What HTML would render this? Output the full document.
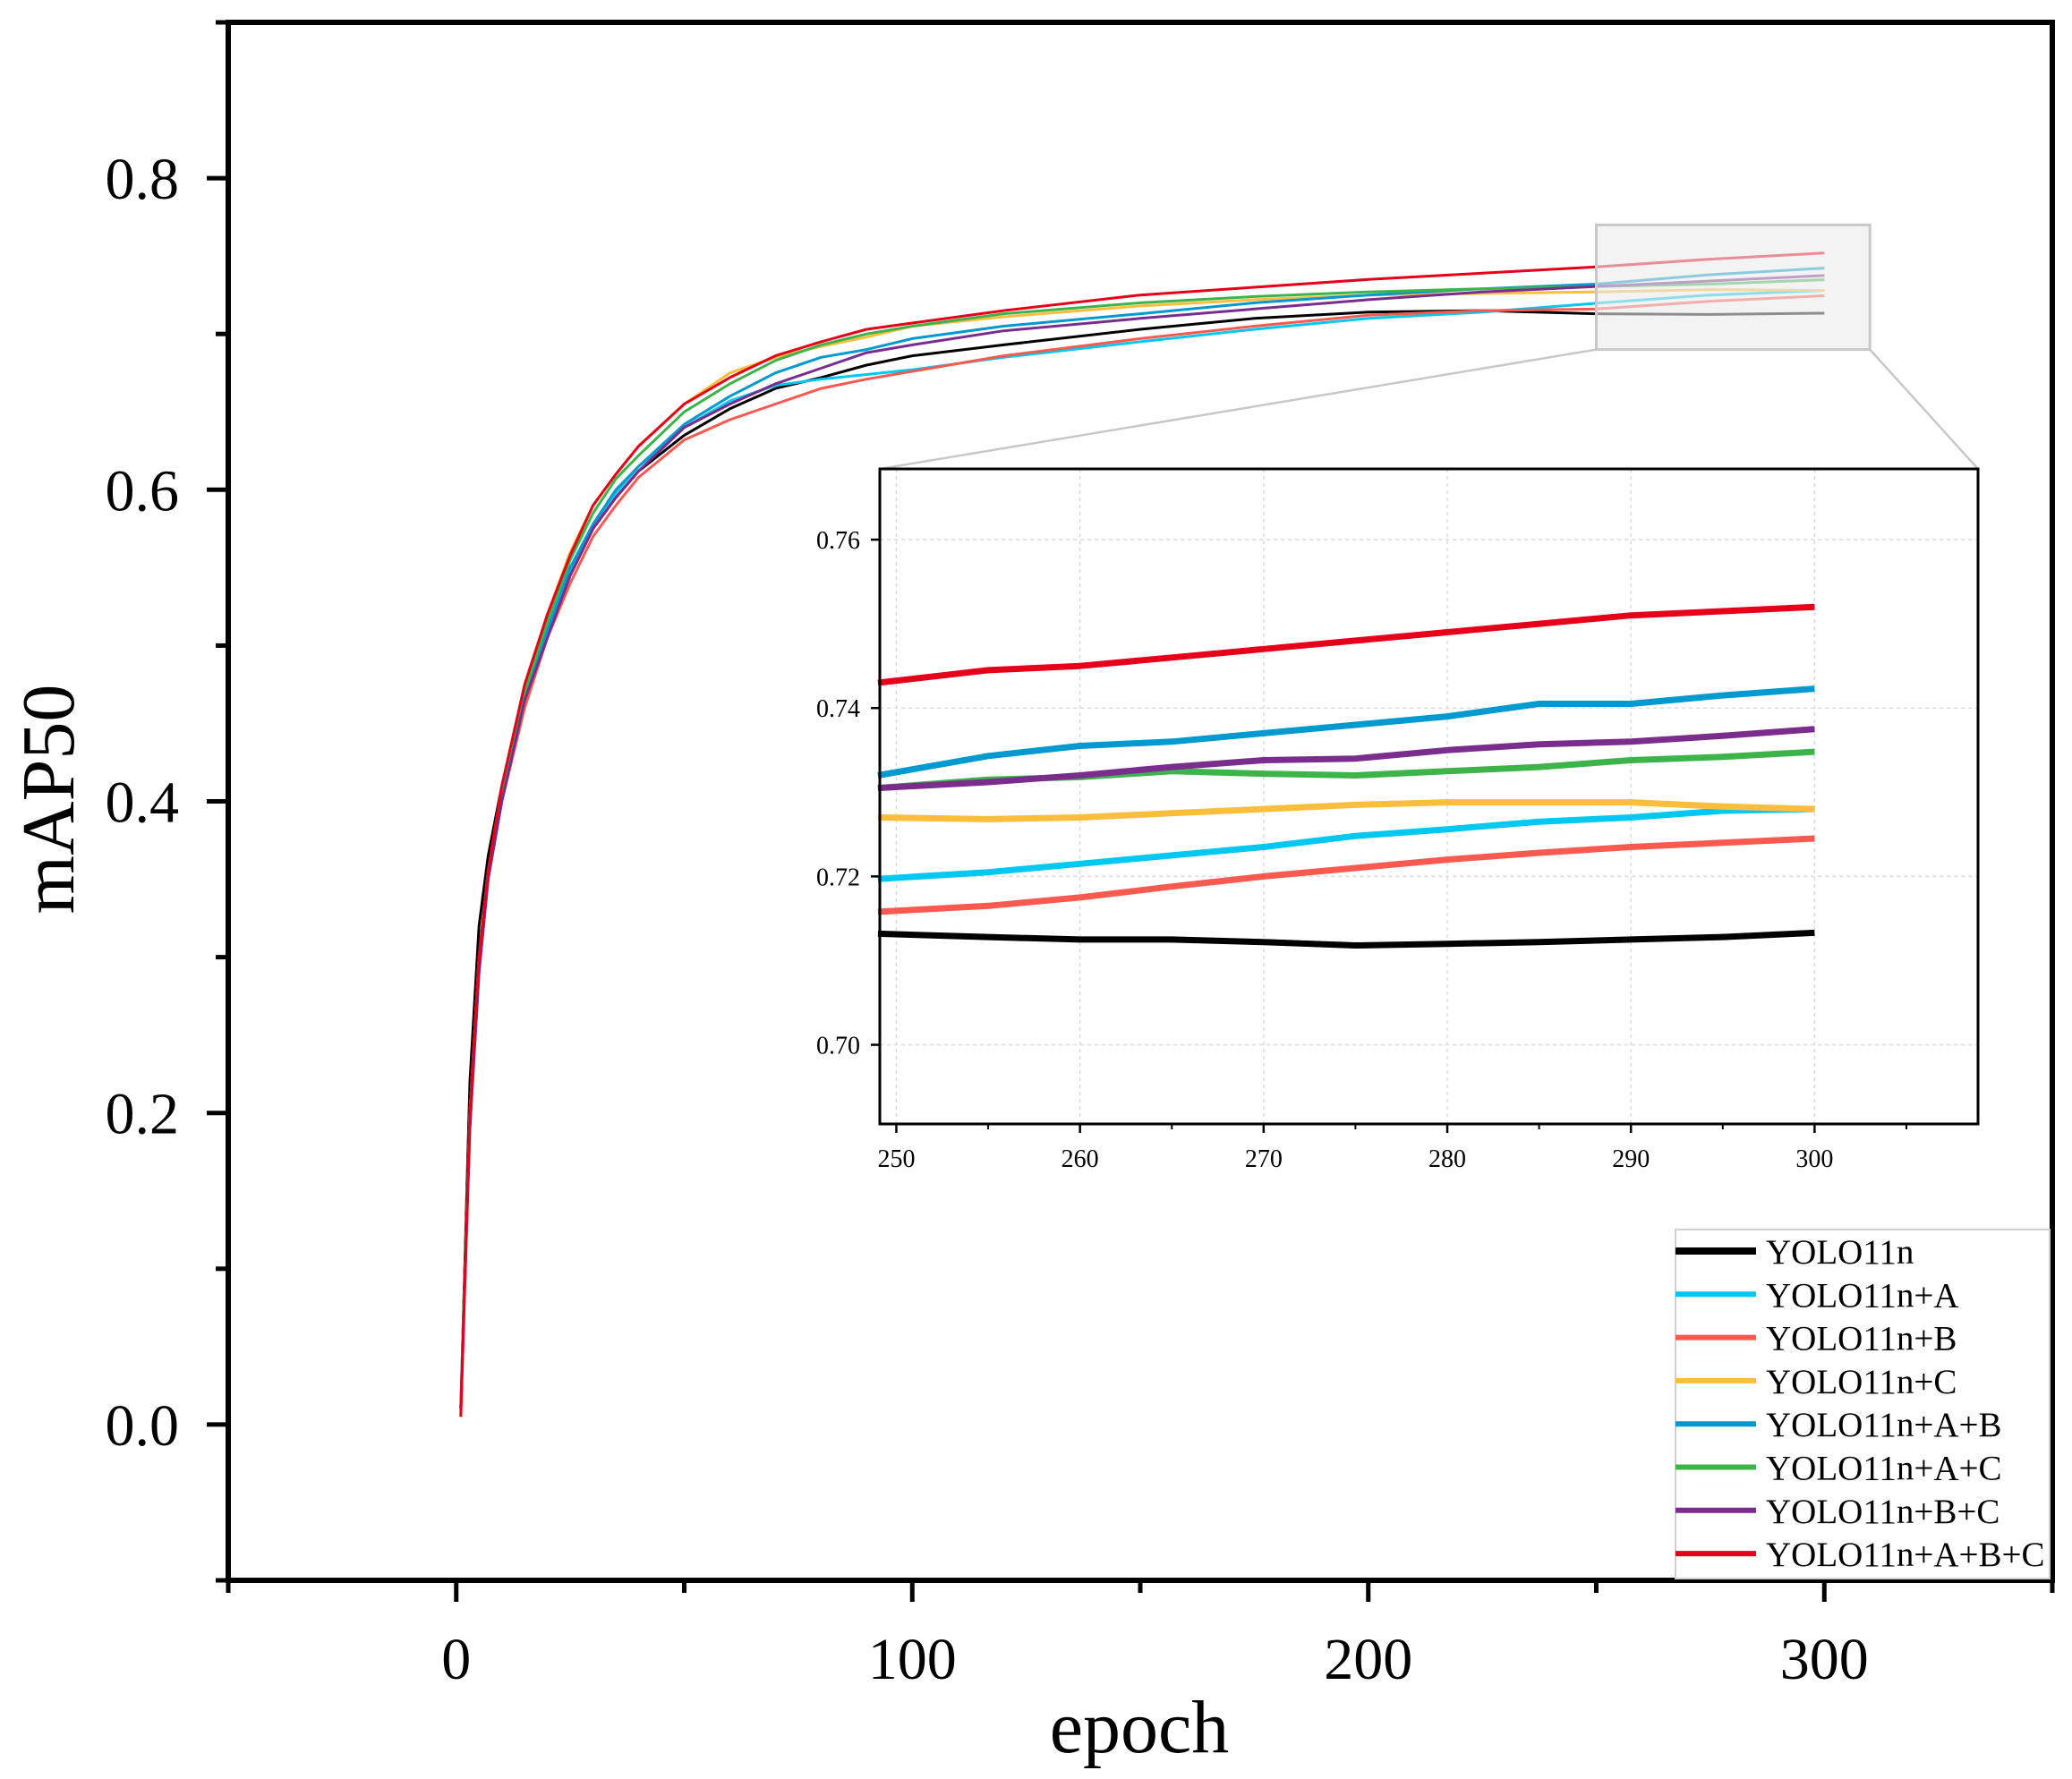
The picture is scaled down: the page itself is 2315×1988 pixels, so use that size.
<!DOCTYPE html>
<html><head><meta charset="utf-8">
<style>
html,body{margin:0;padding:0;background:#fff;}
svg{display:block;font-family:"Liberation Serif",serif;}
</style></head>
<body>
<svg id="chart" width="2315" height="1988" viewBox="0 0 2315 1988" xmlns="http://www.w3.org/2000/svg"></svg>
<script>
const seriesNames = ["YOLO11n","YOLO11n+A","YOLO11n+B","YOLO11n+C","YOLO11n+A+B","YOLO11n+A+C","YOLO11n+B+C","YOLO11n+A+B+C"];
const seriesColors = ["#000000","#00c8f0","#f85a50","#fbbd3c","#0099d0","#3cb44a","#7b2d8e","#e60019"];
const mainEpochs = [1,3,5,7,10,15,20,25,30,35,40,50,60,70,80,90,100,120,150,175,200,225,250,275,300];
const valBase = [0.01,0.22,0.32,0.365,0.41,0.47,0.51,0.545,0.575,0.595,0.612,0.635,0.652,0.665,0.672,0.68,0.686,0.693,0.703,0.71,0.714,0.715,0.713,0.7125,0.7133];
const valA = [0.01,0.2,0.3,0.355,0.405,0.468,0.51,0.548,0.578,0.598,0.615,0.64,0.657,0.667,0.671,0.674,0.677,0.685,0.695,0.703,0.71,0.714,0.7197,0.725,0.728];
const valB = [0.005,0.19,0.29,0.35,0.4,0.46,0.505,0.54,0.57,0.59,0.608,0.632,0.645,0.655,0.665,0.671,0.676,0.686,0.697,0.705,0.712,0.715,0.716,0.721,0.7245];
const valC = [0.01,0.2,0.3,0.355,0.41,0.475,0.52,0.56,0.59,0.61,0.628,0.655,0.675,0.685,0.692,0.698,0.705,0.711,0.718,0.722,0.725,0.726,0.727,0.7285,0.728];
const valAB = [0.01,0.2,0.3,0.355,0.405,0.47,0.51,0.55,0.578,0.6,0.615,0.642,0.66,0.675,0.685,0.69,0.697,0.705,0.713,0.72,0.725,0.729,0.732,0.738,0.7423];
const valAC = [0.01,0.2,0.3,0.355,0.405,0.47,0.515,0.555,0.585,0.607,0.622,0.65,0.668,0.683,0.693,0.7,0.705,0.713,0.72,0.724,0.727,0.729,0.7305,0.732,0.7348];
const valBC = [0.01,0.19,0.29,0.35,0.4,0.465,0.505,0.545,0.575,0.595,0.612,0.64,0.655,0.668,0.678,0.688,0.693,0.702,0.71,0.716,0.722,0.727,0.7305,0.734,0.7375];
const valABC = [0.005,0.2,0.3,0.355,0.41,0.475,0.52,0.558,0.59,0.61,0.628,0.655,0.672,0.686,0.695,0.703,0.707,0.715,0.725,0.73,0.735,0.739,0.743,0.748,0.752];
const insetEpochs = [249,255,260,265,270,275,280,285,290,295,300];
const insBase = [0.7132,0.7128,0.7125,0.7125,0.7122,0.7118,0.712,0.7122,0.7125,0.7128,0.7133];
const insA = [0.7197,0.7205,0.7215,0.7225,0.7235,0.7248,0.7256,0.7265,0.727,0.7278,0.728];
const insB = [0.7158,0.7165,0.7175,0.7188,0.72,0.721,0.722,0.7228,0.7235,0.724,0.7245];
const insC = [0.727,0.7268,0.727,0.7275,0.728,0.7285,0.7288,0.7288,0.7288,0.7283,0.728];
const insAB = [0.732,0.7343,0.7355,0.736,0.737,0.738,0.739,0.7405,0.7405,0.7415,0.7423];
const insAC = [0.7305,0.7315,0.7318,0.7325,0.7322,0.732,0.7325,0.733,0.7338,0.7342,0.7348];
const insBC = [0.7305,0.7312,0.732,0.733,0.7338,0.734,0.735,0.7357,0.736,0.7367,0.7375];
const insABC = [0.743,0.7445,0.745,0.746,0.747,0.748,0.749,0.75,0.751,0.7515,0.752];
const xTicks = [0,100,200,300];
const yTicks = [0.0,0.2,0.4,0.6,0.8];
const insXTicks = [250,260,270,280,290,300];
const insYTicks = [0.70,0.72,0.74,0.76];

const NS="http://www.w3.org/2000/svg";
const svg=document.getElementById('chart');
function mk(tag,attrs,parent){const e=document.createElementNS(NS,tag);for(const k in attrs)e.setAttribute(k,attrs[k]);(parent||svg).appendChild(e);return e;}

const L=255,R=2293,T=25,B=1766;
const xMin=-50,xMax=350,yMin=-0.1,yMax=0.9;
const X=v=>L+(v-xMin)/(xMax-xMin)*(R-L);
const Y=v=>B-(v-yMin)/(yMax-yMin)*(B-T);

const mainSeries=[valBase,valA,valB,valC,valAB,valAC,valBC,valABC];
const gLines=mk('g',{});


mainSeries.forEach((vals,i)=>{
  const d=vals.map((v,j)=>(j?'L':'M')+X(mainEpochs[j]).toFixed(1)+','+Y(v).toFixed(1)).join(' ');
  const p=mk('path',{d:d,fill:'none',stroke:seriesColors[i],'stroke-width':3,'stroke-linejoin':'round'},gLines);
  
  
});

const zb=mk('rect',{x:X(250),y:Y(0.77),width:X(310)-X(250),height:Y(0.69)-Y(0.77),fill:'rgba(235,235,235,0.6)',stroke:'#c8c8c8','stroke-width':3});



const iL=983,iR=2210,iT=524,iB=1256;
const ixMin=249.1,ixMax=308.9,iyMin=0.6906,iyMax=0.7684;
const IX=v=>iL+(v-ixMin)/(ixMax-ixMin)*(iR-iL);
const IY=v=>iB-(v-iyMin)/(iyMax-iyMin)*(iB-iT);
const c1=mk('line',{x1:X(250),y1:Y(0.69),x2:iL,y2:iT,stroke:'#c8c8c8','stroke-width':2.5});


const c2=mk('line',{x1:X(310),y1:Y(0.69),x2:iR,y2:iT,stroke:'#c8c8c8','stroke-width':2.5});



const ibg=mk('rect',{x:iL,y:iT,width:iR-iL,height:iB-iT,fill:'#fff'});


insXTicks.forEach(t=>{const g=mk('line',{x1:IX(t),y1:iT,x2:IX(t),y2:iB,stroke:'#dcdcdc','stroke-width':1.5,'stroke-dasharray':'4,4'});
});
insYTicks.forEach(t=>{const g=mk('line',{x1:iL,y1:IY(t),x2:iR,y2:IY(t),stroke:'#dcdcdc','stroke-width':1.5,'stroke-dasharray':'4,4'});
});
const insSeries=[insBase,insA,insB,insC,insAB,insAC,insBC,insABC];
insSeries.forEach((vals,i)=>{
  const d=vals.map((v,j)=>(j?'L':'M')+IX(insetEpochs[j]).toFixed(1)+','+IY(v).toFixed(1)).join(' ');
  const p=mk('path',{d:d,fill:'none',stroke:seriesColors[i],'stroke-width':7,'stroke-linejoin':'round'});
  
  
});
const ifr=mk('rect',{x:iL,y:iT,width:iR-iL,height:iB-iT,fill:'none',stroke:'#000','stroke-width':3});


insXTicks.forEach(t=>{
  mk('line',{x1:IX(t),y1:iB,x2:IX(t),y2:iB+10,stroke:'#000','stroke-width':2.5});
  const tx=mk('text',{x:IX(t),y:iB+48,'font-size':28,'text-anchor':'middle'});tx.textContent=t;
  
});
[255,265,275,285,295,305].forEach(t=>mk('line',{x1:IX(t),y1:iB,x2:IX(t),y2:iB+6,stroke:'#000','stroke-width':2}));
insYTicks.forEach(t=>{
  mk('line',{x1:iL,y1:IY(t),x2:iL-10,y2:IY(t),stroke:'#000','stroke-width':2.5});
  const tx=mk('text',{x:iL-22,y:IY(t)+10,'font-size':28,'text-anchor':'end'});tx.textContent=t.toFixed(2);
  
});

const fr=mk('rect',{x:L,y:T,width:R-L,height:B-T,fill:'none',stroke:'#000','stroke-width':6});


xTicks.forEach(t=>{
  mk('line',{x1:X(t),y1:B,x2:X(t),y2:B+24,stroke:'#000','stroke-width':5});
  const tx=mk('text',{x:X(t),y:B+110,'font-size':66,'text-anchor':'middle'});tx.textContent=t;
  
});
[-50,50,150,250,350].forEach(t=>mk('line',{x1:X(t),y1:B,x2:X(t),y2:B+14,stroke:'#000','stroke-width':5}));
yTicks.forEach(t=>{
  mk('line',{x1:L,y1:Y(t),x2:L-24,y2:Y(t),stroke:'#000','stroke-width':5});
  const tx=mk('text',{x:200,y:Y(t)+23,'font-size':66,'text-anchor':'end'});tx.textContent=t.toFixed(1);
  
});
[-0.1,0.1,0.3,0.5,0.7,0.9].forEach(t=>mk('line',{x1:L,y1:Y(t),x2:L-14,y2:Y(t),stroke:'#000','stroke-width':5}));
const xt=mk('text',{x:1273,y:1958,'font-size':84,'text-anchor':'middle'});xt.textContent='epoch';

const yt=mk('text',{x:0,y:0,'font-size':84,'text-anchor':'middle',transform:'translate(82,893) rotate(-90)'});yt.textContent='mAP50';


const lg=mk('g',{});


mk('rect',{x:1872,y:1374,width:418,height:390,fill:'#fff',stroke:'#d0d0d0','stroke-width':2},lg);
seriesNames.forEach((n,i)=>{
  const yy=1398+i*48.3;
  const ln=mk('line',{x1:1872,y1:yy,x2:1962,y2:yy,stroke:seriesColors[i],'stroke-width':i?6:8},lg);
  
  const tx=mk('text',{x:1973,y:yy+14,'font-size':39},lg);tx.textContent=n;
  
});
</script>
</body></html>
